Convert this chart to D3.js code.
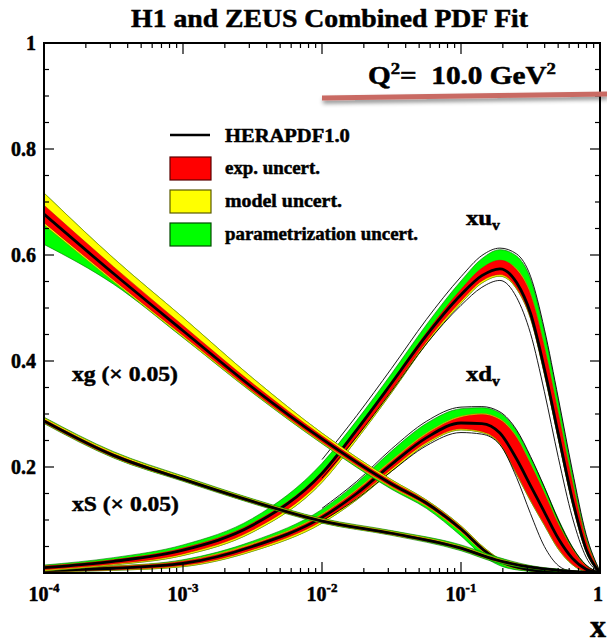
<!DOCTYPE html>
<html><head><meta charset="utf-8">
<script src="https://cdn.jsdelivr.net/npm/d3@7"></script>
<style>
body{margin:0;background:#fff}
svg{display:block}
text{font-family:"Liberation Serif","Times New Roman",serif;font-weight:bold;fill:#000;stroke:#000;stroke-width:0.5px}
</style>
</head><body>
<svg id="c" width="607" height="643"></svg>
<script>
// ---------- DATA (log10 x knots and PDF values) ----------
const valL = [-4,-3.5,-3,-2.5,-2,-1.75,-1.5,-1.25,-1,-0.85,-0.72,-0.6,-0.5,-0.4,-0.3,-0.2,-0.1,0];
const thinL = [-2,-1.75,-1.5,-1.25,-1,-0.85,-0.72,-0.6,-0.5,-0.4,-0.3,-0.2,-0.1,0];

const xuvC   = [.010,.022,.043,.090,.188,.270,.358,.448,.525,.561,.574,.548,.490,.385,.262,.140,.045,0];
const xuvEHi = [.013,.025,.047,.094,.191,.273,.361,.453,.535,.575,.590,.572,.525,.425,.300,.172,.062,.002];
const xuvELo = [.006,.017,.036,.081,.176,.257,.345,.436,.513,.551,.563,.538,.482,.377,.255,.134,.041,0];
const xuvMHi = [.013,.025,.047,.094,.191,.273,.361,.453,.535,.575,.590,.574,.528,.428,.303,.175,.064,.002];
const xuvMLo = [.004,.015,.033,.077,.171,.252,.340,.432,.509,.547,.560,.536,.480,.375,.253,.132,.040,0];
const xuvTHi = [.015,.029,.053,.103,.207,.288,.376,.468,.551,.593,.610,.598,.555,.455,.325,.190,.070,.003];
const xuvTLo = [.004,.015,.033,.077,.171,.252,.340,.432,.509,.547,.560,.536,.480,.375,.253,.132,.040,0];
const xuvThinHi = [.214,.297,.386,.478,.559,.599,.613,.602,.560,.460,.330,.195,.073,.003];
const xuvThinLo = [.179,.257,.343,.432,.505,.539,.552,.520,.452,.342,.218,.106,.030,0];

const xdvC   = [.005,.009,.018,.050,.105,.150,.205,.255,.283,.282,.264,.215,.165,.115,.065,.028,.007,0];
const xdvEHi = [.007,.012,.022,.054,.110,.156,.211,.262,.294,.299,.289,.255,.205,.150,.092,.045,.013,.001];
const xdvELo = [.003,.006,.014,.044,.098,.142,.196,.246,.272,.267,.245,.188,.138,.092,.047,.017,.003,0];
const xdvMHi = [.008,.013,.023,.056,.112,.158,.213,.264,.296,.301,.291,.257,.207,.152,.094,.046,.014,.001];
const xdvMLo = [.002,.005,.012,.041,.094,.138,.192,.243,.270,.265,.243,.186,.136,.090,.045,.016,.002,0];
const xdvTHi = [.008,.013,.025,.060,.120,.170,.230,.282,.310,.312,.302,.268,.218,.162,.102,.050,.015,.001];
const xdvTLo = [.002,.005,.012,.041,.094,.138,.192,.243,.270,.265,.243,.186,.136,.090,.045,.016,.002,0];
const xdvThinHi = [.122,.173,.234,.286,.313,.314,.304,.270,.220,.162,.100,.049,.015,.001];
const xdvThinLo = [.098,.140,.192,.240,.265,.262,.242,.180,.112,.050,.014,.003,.001,0];

const gL    = [-4,-3.5,-3,-2.5,-2,-1.5,-1.25,-1,-0.83,-0.7,-0.5,-0.25,0];
const xgC   = [.677,.565,.457,.350,.253,.168,.132,.083,.042,.020,.006,.001,0];
const xgEHi = [.694,.578,.467,.358,.259,.173,.136,.087,.045,.022,.007,.001,0];
const xgELo = [.661,.553,.448,.343,.247,.163,.128,.079,.039,.018,.005,0,0];
const xgMHi = [.717,.594,.482,.368,.264,.176,.138,.089,.047,.023,.008,.002,0];
const xgMLo = [.657,.550,.445,.341,.245,.161,.126,.077,.037,.016,.004,0,0];
const xgTHi = [.717,.594,.482,.368,.264,.176,.138,.089,.047,.023,.008,.002,0];
const xgTLo = [.620,.545,.444,.340,.244,.158,.122,.070,.030,.012,.003,0,0];

const sL    = [-4,-3.5,-3,-2.5,-2,-1.5,-1,-0.75,-0.5,-0.25,0];
const xsC   = [.287,.222,.177,.135,.098,.075,.047,.025,.011,.004,0];
const xsEHi = [.290,.225,.179,.137,.100,.077,.049,.027,.012,.005,0];
const xsELo = [.284,.219,.175,.133,.096,.073,.045,.023,.010,.003,0];
const xsMHi = [.293,.228,.182,.139,.102,.079,.051,.029,.013,.005,0];
const xsMLo = [.283,.218,.174,.132,.095,.072,.044,.022,.009,.003,0];
const xsTHi = [.294,.229,.183,.140,.103,.080,.053,.031,.014,.006,0];
const xsTLo = [.282,.217,.173,.131,.094,.071,.042,.020,.008,.002,0];

const xTickVals = [1e-4,1e-3,1e-2,1e-1,1];
const xTickBase = ["10","10","10","10","1"];
const xTickSup  = ["-4","-3","-2","-1",""];
const yTickVals = [0.2,0.4,0.6,0.8,1];
const yTickText = ["0.2","0.4","0.6","0.8","1"];

const legendItems = ["HERAPDF1.0","exp. uncert.","model uncert.","parametrization uncert."];

// ---------- SETUP ----------
const svg = d3.select("#c");
const X0 = 44, X1 = 600, Y0 = 573, Y1 = 43;
const xs = d3.scaleLog().domain([1e-4,1]).range([X0,X1]);
const ys = d3.scaleLinear().domain([0,1]).range([Y0,Y1]);

const defs = svg.append("defs");
defs.append("clipPath").attr("id","clip").append("rect")
  .attr("x",X0).attr("y",Y1).attr("width",X1-X0).attr("height",Y0-Y1);
const f = defs.append("filter").attr("id","shadow").attr("x","-10%").attr("y","-200%").attr("width","120%").attr("height","600%");
f.append("feDropShadow").attr("dx",1).attr("dy",3).attr("stdDeviation",2).attr("flood-color","#000").attr("flood-opacity",0.45);

const plot = svg.append("g").attr("clip-path","url(#clip)");

const area = d3.area().x(d=>xs(d.x)).y0(d=>ys(d.lo)).y1(d=>ys(d.hi)).curve(d3.curveMonotoneX);
const line = d3.line().x(d=>xs(d.x)).y(d=>ys(d.v)).curve(d3.curveMonotoneX);

function bandPts(L, lo, hi){ return L.map((l,i)=>({x:Math.pow(10,l), lo:lo[i], hi:hi[i]})); }
function linePts(L, v){ return L.map((l,i)=>({x:Math.pow(10,l), v:v[i]})); }

function drawSeries(L, c, eLo, eHi, mLo, mHi, tLo, tHi, thin){
  const g = plot.append("g");
  g.append("path").datum(bandPts(L,tLo,tHi)).attr("d",area).attr("fill","#00ff00").attr("stroke","#007000").attr("stroke-width",0.6);
  g.append("path").datum(bandPts(L,mLo,mHi)).attr("d",area).attr("fill","#ffff00").attr("stroke","#8a8a00").attr("stroke-width",0.6);
  g.append("path").datum(bandPts(L,eLo,eHi)).attr("d",area).attr("fill","#ff0000").attr("stroke","#b00000").attr("stroke-width",0.5);
  if (thin){
    thin.forEach(t=>{
      g.append("path").datum(linePts(thinL,t)).attr("d",line).attr("fill","none").attr("stroke","#000").attr("stroke-width",0.9);
    });
  }
  g.append("path").datum(linePts(L,c)).attr("d",line).attr("fill","none").attr("stroke","#000").attr("stroke-width",2.8);
}

drawSeries(valL, xdvC, xdvELo, xdvEHi, xdvMLo, xdvMHi, xdvTLo, xdvTHi, [xdvThinHi, xdvThinLo]);
drawSeries(valL, xuvC, xuvELo, xuvEHi, xuvMLo, xuvMHi, xuvTLo, xuvTHi, [xuvThinHi, xuvThinLo]);
drawSeries(gL, xgC, xgELo, xgEHi, xgMLo, xgMHi, xgTLo, xgTHi, null);
drawSeries(sL, xsC, xsELo, xsEHi, xsMLo, xsMHi, xsTLo, xsTHi, null);

// ---------- AXES ----------
const ax = svg.append("g");
const xMinor = [];
for (let d=-4; d<0; d++) for (let k=2; k<=9; k++) xMinor.push(k*Math.pow(10,d));
const yMinor = d3.range(0,1.0001,0.05).filter(v=>Math.abs(v*5-Math.round(v*5))>1e-6);
const yMajor = d3.range(0,1.0001,0.2);

function tick(x1,y1,x2,y2){ ax.append("line").attr("x1",x1).attr("y1",y1).attr("x2",x2).attr("y2",y2).attr("stroke","#000").attr("stroke-width",1.2); }
xTickVals.forEach(v=>{ const x=xs(v); tick(x,Y0,x,Y0-11); tick(x,Y1,x,Y1+11); });
xMinor.forEach(v=>{ const x=xs(v); tick(x,Y0,x,Y0-5); tick(x,Y1,x,Y1+5); });
yMajor.forEach(v=>{ const y=ys(v); tick(X0,y,X0+10,y); tick(X1,y,X1-10,y); });
yMinor.forEach(v=>{ const y=ys(v); tick(X0,y,X0+5,y); tick(X1,y,X1-5,y); });
ax.append("rect").attr("x",X0).attr("y",Y1).attr("width",X1-X0).attr("height",Y0-Y1)
  .attr("fill","none").attr("stroke","#000").attr("stroke-width",2);

xTickVals.forEach((v,i)=>{
  const t = ax.append("text").attr("x",xs(v)+(i===4?-2:0)).attr("y",601).attr("text-anchor","middle").attr("font-size",20);
  t.append("tspan").text(xTickBase[i]);
  if (xTickSup[i]) t.append("tspan").attr("dy",-9).attr("font-size",13).text(xTickSup[i]);
});
yTickVals.forEach((v,i)=>{
  ax.append("text").attr("x",36).attr("y",ys(v)).attr("dy","0.35em").attr("text-anchor","end").attr("font-size",20).text(yTickText[i]);
});

function fit(sel, w){
  const b = sel.node().getBBox();
  const k = w / b.width;
  sel.attr("transform",`translate(${b.x},0) scale(${k},1) translate(${-b.x},0)`);
}

// title
const title = svg.append("text").attr("x",310).attr("y",27).attr("text-anchor","middle").attr("font-size",25).text("H1 and ZEUS Combined PDF Fit");
fit(title, 398);

// x axis label
svg.append("text").attr("x",606).attr("y",637).attr("text-anchor","end").attr("font-size",32).text("x");

// Q^2 label
const q = svg.append("text").attr("x",368).attr("y",84).attr("font-size",25);
q.append("tspan").text("Q");
q.append("tspan").attr("dy",-10).attr("font-size",16).text("2");
q.append("tspan").attr("dy",10).text("=\u00a0 10.0 GeV");
q.append("tspan").attr("dy",-10).attr("font-size",16).text("2");
fit(q, 188);

// overlay stroke
svg.append("line").attr("x1",322).attr("y1",98).attr("x2",607).attr("y2",94)
  .attr("stroke","#c96b64").attr("stroke-width",5).attr("filter","url(#shadow)");

// legend
const lg = svg.append("g");
lg.append("line").attr("x1",170).attr("x2",210).attr("y1",135).attr("y2",135).attr("stroke","#000").attr("stroke-width",2.5);
const boxFill = ["#ff0000","#ffff00","#00ff00"];
const boxStroke = ["#5a0000","#5a5a00","#004a00"];
const boxY = [157,190,223];
boxY.forEach((y,i)=>{
  lg.append("rect").attr("x",170).attr("y",y).attr("width",41).attr("height",23)
    .attr("fill",boxFill[i]).attr("stroke",boxStroke[i]).attr("stroke-width",1.2);
});
const legY = [142,174,207,240];
const legW = [125,95,117,193];
legendItems.forEach((s,i)=>{
  const t = lg.append("text").attr("x",225).attr("y",legY[i]).attr("font-size",19).text(s);
  fit(t, legW[i]);
});

// curve labels
function subLabel(x,y,main,sub,w){
  const t = svg.append("text").attr("x",x).attr("y",y).attr("font-size",22);
  t.append("tspan").text(main);
  t.append("tspan").attr("dy",5).attr("font-size",14).text(sub);
  fit(t,w);
}
subLabel(466,225,"xu","v",34);
subLabel(466,381,"xd","v",34);
const lgG = svg.append("text").attr("x",72).attr("y",381).attr("font-size",22).text("xg (\u00d7 0.05)");
fit(lgG,106);
const lgS = svg.append("text").attr("x",72).attr("y",511).attr("font-size",22).text("xS (\u00d7 0.05)");
fit(lgS,107);
</script>
</body></html>
